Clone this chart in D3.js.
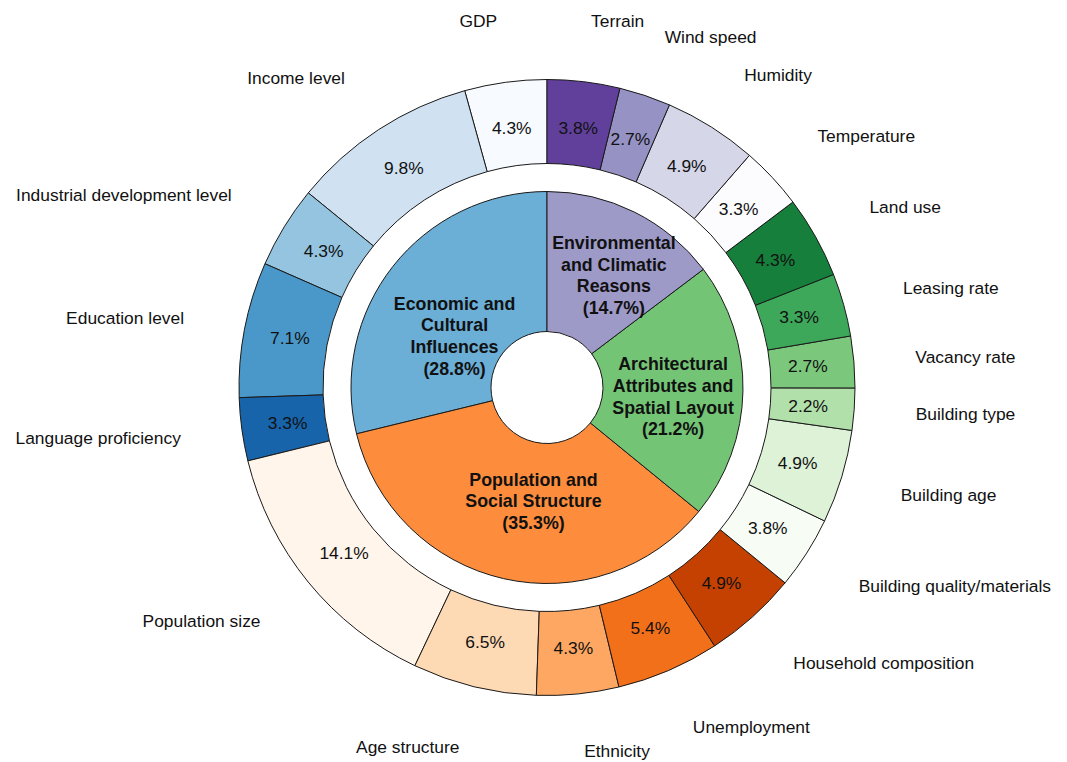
<!DOCTYPE html>
<html>
<head>
<meta charset="utf-8">
<script src="https://cdn.jsdelivr.net/npm/d3@7"></script>
<style>
  html, body { margin: 0; padding: 0; background: #fff; }
  svg { display: block; font-family: Arial, "Liberation Sans", Helvetica, sans-serif; }
</style>
</head>
<body>
<svg id="chart" width="1067" height="762"></svg>
<script>
// Inner pie: factor groups, listed counter-clockwise from 12 o'clock
const groupNames = [
  "Economic and Cultural Influences",
  "Population and Social Structure",
  "Architectural Attributes and Spatial Layout",
  "Environmental and Climatic Reasons"
];
const groupShares = [28.8, 35.3, 21.2, 14.7];
const groupLabelLines = [
  ["Economic and", "Cultural", "Influences"],
  ["Population and", "Social Structure"],
  ["Architectural", "Attributes and", "Spatial Layout"],
  ["Environmental", "and Climatic", "Reasons"]
];
const groupSchemes = ["Blues", "Oranges", "Greens", "Purples"];

// Outer ring: individual factors, same counter-clockwise order
const factorNames = [
  "GDP", "Income level", "Industrial development level", "Education level", "Language proficiency",
  "Population size", "Age structure", "Ethnicity", "Unemployment", "Household composition",
  "Building quality/materials", "Building age", "Building type", "Vacancy rate", "Leasing rate", "Land use",
  "Temperature", "Humidity", "Wind speed", "Terrain"
];
const factorShares = [
  4.3, 9.8, 4.3, 7.1, 3.3,
  14.1, 6.5, 4.3, 5.4, 4.9,
  3.8, 4.9, 2.2, 2.7, 3.3, 4.3,
  3.3, 4.9, 2.7, 3.8
];
const factorGroup = [
  0, 0, 0, 0, 0,
  1, 1, 1, 1, 1,
  2, 2, 2, 2, 2, 2,
  3, 3, 3, 3
];

// ---- layout ----
const W = 1067, H = 762;
const cx = 547, cy = 387.5;
const R = 308;            // outer radius of the factor ring
const ringInner = 224;    // inner radius of the factor ring
const pieR = 196;         // radius of the group pie
const holeR = 56;         // centre hole
const fontSize = 17.4;

const svg = d3.select("#chart");
svg.append("rect").attr("width", W).attr("height", H).attr("fill", "#fff");
const g = svg.append("g").attr("transform", `translate(${cx},${cy})`);

// sequential colour maps with linear segments between the 9 ColorBrewer stops
function cmap(name) {
  const stops = d3["scheme" + name][9];
  return d3.scaleLinear()
    .domain(d3.range(9).map(i => i / 8))
    .range(stops)
    .interpolate(d3.interpolateRgb);
}
const maps = groupSchemes.map(cmap);

// counter-clockwise pies starting at 12 o'clock
const pie = d3.pie().sort(null).value(d => d.value).startAngle(0).endAngle(-2 * Math.PI);

const groupData = groupNames.map((n, i) => ({ name: n, value: groupShares[i], gi: i }));
const factorData = factorNames.map((n, i) => ({ name: n, value: factorShares[i], gi: factorGroup[i] }));

// shade index of each factor within its group
const counts = groupNames.map((_, gi) => factorGroup.filter(x => x === gi).length);
const seen = groupNames.map(() => 0);
factorData.forEach(d => {
  const n = counts[d.gi];
  const k = seen[d.gi]++;
  d.t = n > 1 ? 0.8 * k / (n - 1) : 0.5;
});

const groupArcs = pie(groupData);
const factorArcs = pie(factorData);

const stroke = "#1a1a1a";

// outer ring
const outerArc = d3.arc().innerRadius(ringInner).outerRadius(R);
g.append("g").selectAll("path").data(factorArcs).join("path")
  .attr("d", outerArc)
  .attr("fill", d => maps[d.data.gi](d.data.t))
  .attr("stroke", stroke)
  .attr("stroke-width", 1)
  .attr("stroke-linejoin", "round");

// inner pie
const innerArc = d3.arc().innerRadius(holeR).outerRadius(pieR);
g.append("g").selectAll("path").data(groupArcs).join("path")
  .attr("d", innerArc)
  .attr("fill", d => maps[d.data.gi](0.5))
  .attr("stroke", stroke)
  .attr("stroke-width", 1)
  .attr("stroke-linejoin", "round");

const mid = d => (d.startAngle + d.endAngle) / 2;
const polar = (a, r) => [r * Math.sin(a), -r * Math.cos(a)];

// percentages inside the ring
g.append("g").selectAll("text").data(factorArcs).join("text")
  .attr("transform", d => { const p = polar(mid(d), 0.85 * R); return `translate(${p[0]},${p[1]})`; })
  .attr("text-anchor", "middle")
  .attr("dy", "0.35em")
  .attr("font-size", fontSize)
  .attr("fill", "#111")
  .text(d => d.data.value.toFixed(1) + "%");

// factor names outside the ring, kept inside the bottom edge of the canvas
const maxLabelY = H - cy - 11;
g.append("g").selectAll("text").data(factorArcs).join("text")
  .attr("transform", d => {
    const p = polar(mid(d), 1.2 * R);
    return `translate(${p[0]},${Math.min(p[1], maxLabelY)})`;
  })
  .attr("text-anchor", d => Math.sin(mid(d)) > 0 ? "start" : "end")
  .attr("dy", "0.35em")
  .attr("font-size", fontSize)
  .attr("fill", "#111")
  .text(d => d.data.name);

// group labels inside the pie (slight hand placement for readability)
const groupNudge = [[0, 21], [12.5, -1], [8.5, 7], [14.5, -7]];
const lineH = 21.7;
const gl = g.append("g").selectAll("text").data(groupArcs).join("text")
  .attr("transform", d => {
    const p = polar(mid(d), 0.6 * pieR);
    const nd = groupNudge[d.data.gi];
    return `translate(${p[0] + nd[0]},${p[1] + nd[1]})`;
  })
  .attr("text-anchor", "middle")
  .attr("font-size", 17.8)
  .attr("font-weight", "bold")
  .attr("fill", "#111");
gl.each(function(d) {
  const lines = groupLabelLines[d.data.gi].concat(["(" + d.data.value.toFixed(1) + "%)"]);
  const sel = d3.select(this);
  const off = (lines.length - 1) / 2;
  lines.forEach((ln, i) => {
    sel.append("tspan")
      .attr("x", 0)
      .attr("y", (i - off) * lineH)
      .attr("dy", "0.35em")
      .text(ln);
  });
});
</script>
</body>
</html>
